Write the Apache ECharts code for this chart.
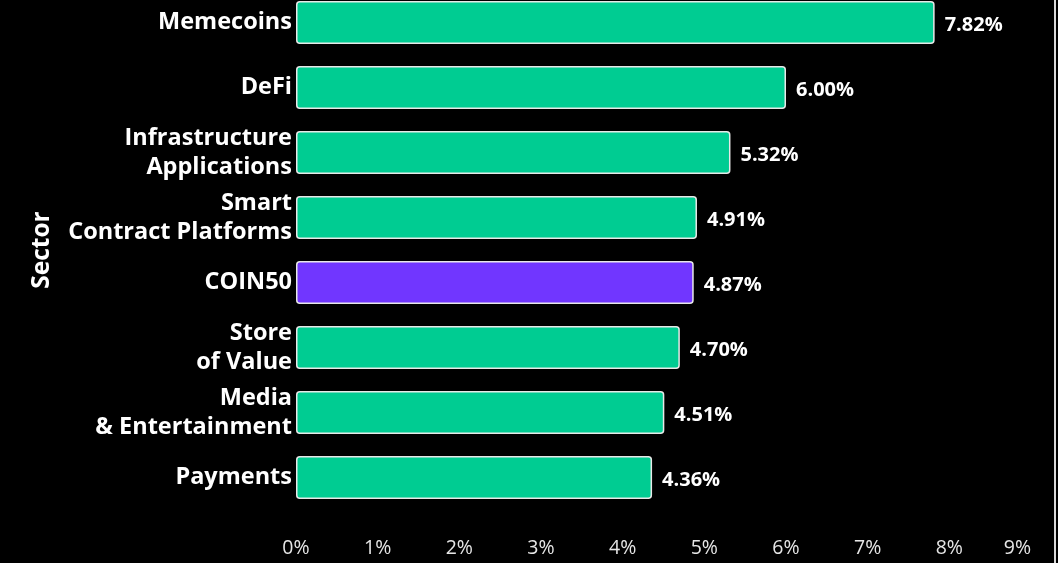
<!DOCTYPE html>
<html>
<head>
<meta charset="utf-8">
<script src="https://cdn.jsdelivr.net/npm/echarts@6/dist/echarts.min.js"></script>
<style>
  html, body { margin: 0; padding: 0; background: #000; }
  #chart { width: 1058px; height: 563px; }
</style>
</head>
<body>
<div id="chart"></div>
<script>
  // sectors, top to bottom as drawn
  const sectors = [
    'Memecoins',
    'DeFi',
    'Infrastructure\nApplications',
    'Smart\nContract Platforms',
    'COIN50',
    'Store\nof Value',
    'Media\n& Entertainment',
    'Payments'
  ];
  const returns = [7.82, 6.00, 5.32, 4.91, 4.87, 4.70, 4.51, 4.36];
  const highlight = 'COIN50';

  const GREEN = '#00CC92';
  const PURPLE = '#7136FF';
  const FONT = '"Open Sans", "Noto Sans", sans-serif';

  const chart = echarts.init(document.getElementById('chart'));

  // category axis runs bottom->top, so reverse for display
  const cats = sectors.slice().reverse();
  const vals = returns.slice().reverse().map((v, i) => ({
    value: v,
    itemStyle: { color: cats[i] === highlight ? PURPLE : GREEN }
  }));

  const option = {
    backgroundColor: '#000',
    animation: false,
    grid: {
      left: 296, right: 27, top: -10, bottom: 53,
      containLabel: false,
      outerBoundsMode: 'none'
    },
    xAxis: {
      type: 'value',
      min: 0,
      max: 9,
      interval: 1,
      splitLine: { show: false },
      axisLine: { show: false },
      axisTick: { show: false },
      axisLabel: {
        color: '#e6e6e6',
        fontFamily: FONT,
        fontSize: 19.5,
        margin: 28,
        alignMaxLabel: 'right',
        formatter: v => v + '%'
      }
    },
    yAxis: {
      type: 'category',
      data: cats,
      name: 'Sector',
      nameLocation: 'middle',
      nameRotate: 90,
      nameGap: 241,
      nameTextStyle: { color: '#fff', fontFamily: FONT, fontSize: 24.5, fontWeight: 'bold' },
      axisLine: { show: false },
      axisTick: { show: false },
      axisLabel: {
        color: '#fff',
        fontFamily: FONT,
        fontSize: 23.5,
        fontWeight: 'bold',
        lineHeight: 29,
        margin: 4,
        padding: [5, 0, 0, 0]
      }
    },
    series: [
      {
        type: 'bar',
        data: vals,
        barWidth: 43,
        itemStyle: { borderColor: '#e8e8e8', borderWidth: 1.5, borderRadius: 3 },
        label: {
          show: true,
          position: 'right',
          distance: 10,
          offset: [0, 3],
          color: '#fff',
          fontFamily: FONT,
          fontSize: 20,
          fontWeight: 'bold',
          formatter: p => p.value.toFixed(2) + '%'
        }
      }
    ],
    graphic: [
      { type: 'rect', shape: { x: 1054, y: 0, width: 2, height: 563 }, style: { fill: '#d8d8d8' } }
    ]
  };

  chart.setOption(option);
</script>
</body>
</html>
